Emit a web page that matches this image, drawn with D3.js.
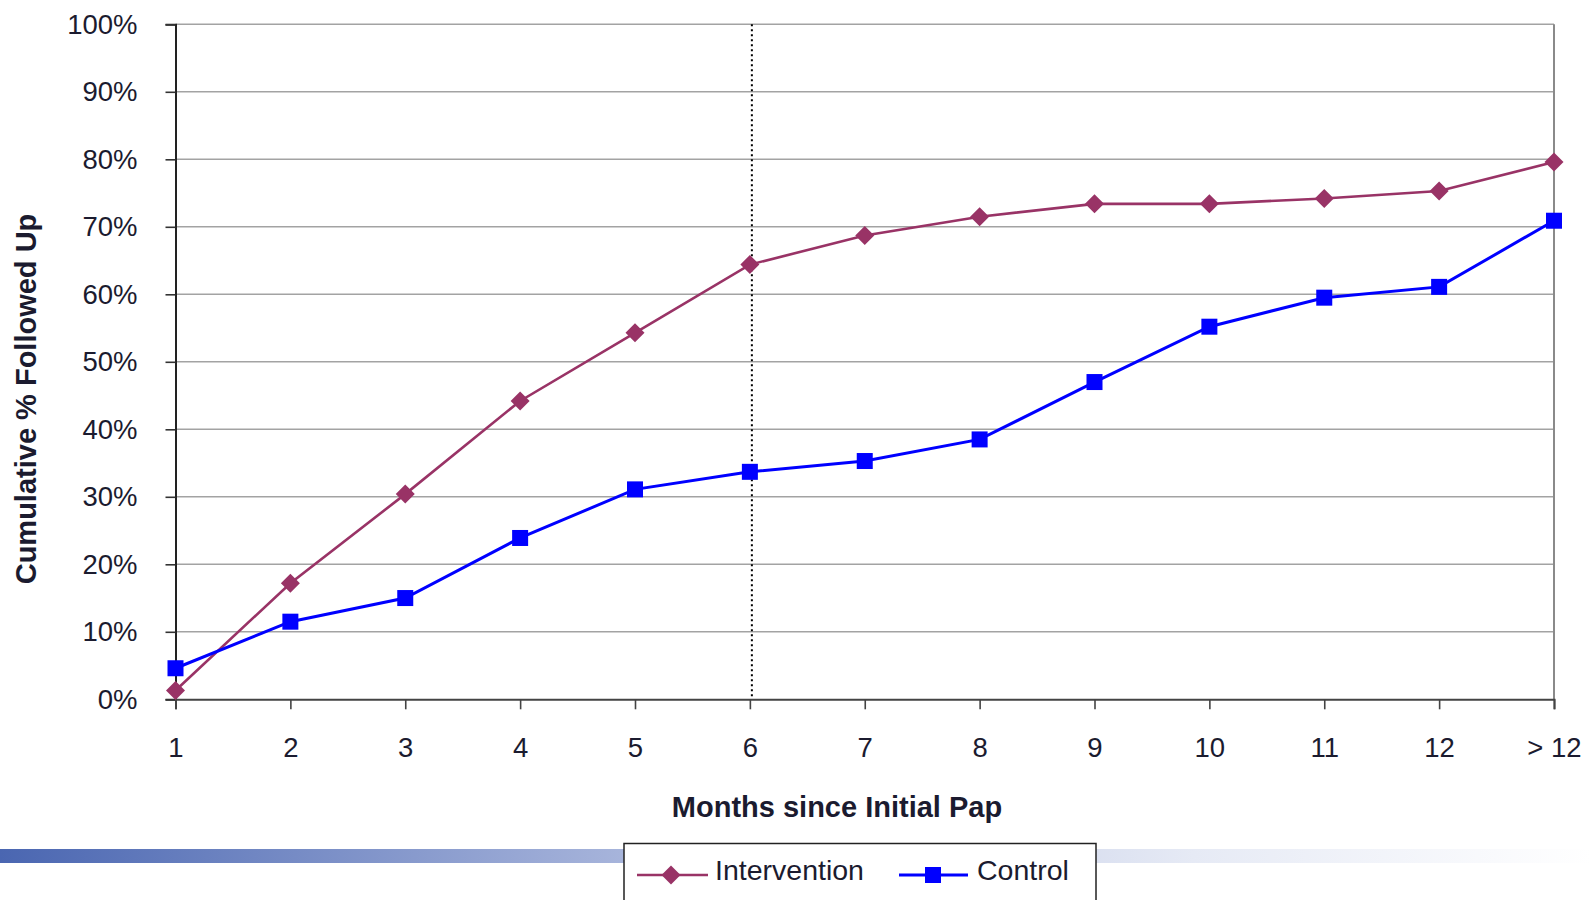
<!DOCTYPE html>
<html>
<head>
<meta charset="utf-8">
<script src="https://cdn.jsdelivr.net/npm/d3@7"></script>
<style>
  html, body { margin: 0; padding: 0; background: #fff; }
  svg { display: block; font-family: "Liberation Sans", Arial, sans-serif; }
</style>
</head>
<body>
<svg id="chart" width="1591" height="900"></svg>
<script>
const months = ["1","2","3","4","5","6","7","8","9","10","11","12","> 12"];
const intervention = [1.3, 17.2, 30.4, 44.2, 54.3, 64.4, 68.7, 71.5, 73.4, 73.4, 74.2, 75.3, 79.6];
const control = [4.6, 11.5, 15.0, 23.9, 31.1, 33.7, 35.3, 38.5, 47.0, 55.2, 59.5, 61.1, 70.9];
const yTicks = [0,10,20,30,40,50,60,70,80,90,100];
const seriesNames = ["Intervention", "Control"];
const markerMonth = "6";

(function () {
const textColor = "#1b1b2f";
const svg = d3.select("#chart");

const pL = 175.5, pR = 1554, pT = 24.3, pB = 699.3;
const x = d3.scalePoint().domain(months).range([pL, pR]).padding(0);
const y = d3.scaleLinear().domain([0, 100]).range([pB, pT]);

// gradient band
const defs = svg.append("defs");
const grad = defs.append("linearGradient").attr("id", "band").attr("x1", "0%").attr("x2", "100%");
grad.append("stop").attr("offset", "0%").attr("stop-color", "#4a66b1");
grad.append("stop").attr("offset", "40%").attr("stop-color", "#a9b6dc");
grad.append("stop").attr("offset", "75%").attr("stop-color", "#e6eaf5");
grad.append("stop").attr("offset", "100%").attr("stop-color", "#ffffff");
svg.append("rect").attr("x", 0).attr("y", 849).attr("width", 1591).attr("height", 14).attr("fill", "url(#band)");

// gridlines
svg.append("g").selectAll("line").data(yTicks.filter(d => d > 0)).join("line")
  .attr("x1", pL).attr("x2", pR)
  .attr("y1", d => y(d)).attr("y2", d => y(d))
  .attr("stroke", "#a3a3a3").attr("stroke-width", 1.6);

// right border
svg.append("line").attr("x1", pR).attr("x2", pR).attr("y1", pT).attr("y2", pB)
  .attr("stroke", "#8a8a8a").attr("stroke-width", 2);

// y axis
const yAxis = svg.append("g").attr("transform", `translate(${pL},0)`)
  .call(d3.axisLeft(y).tickValues(yTicks).tickSize(10).tickPadding(28).tickFormat(d => d + "%"));
yAxis.select(".domain").attr("stroke", "#222").attr("stroke-width", 2);
yAxis.selectAll(".tick line").attr("stroke", "#333").attr("stroke-width", 1.6);
yAxis.selectAll(".tick text").attr("fill", textColor).style("font-size", "27.5px")
  .style("font-family", "'Liberation Sans', Arial, sans-serif");

// x axis
const xAxis = svg.append("g").attr("transform", `translate(0,${pB})`)
  .call(d3.axisBottom(x).tickSize(10).tickPadding(28.5));
xAxis.select(".domain").attr("stroke", "#444").attr("stroke-width", 2);
xAxis.selectAll(".tick line").attr("stroke", "#444").attr("stroke-width", 1.6);
xAxis.selectAll(".tick text").attr("fill", textColor).style("font-size", "27.5px")
  .style("font-family", "'Liberation Sans', Arial, sans-serif");

// dotted vertical line at month 6
svg.append("line").attr("x1", x(markerMonth) + 2).attr("x2", x(markerMonth) + 2)
  .attr("y1", pT).attr("y2", pB)
  .attr("stroke", "#000").attr("stroke-width", 2).attr("stroke-dasharray", "2,3");

// lines
const line = d3.line().x((d, i) => x(months[i])).y(d => y(d));
svg.append("path").datum(intervention).attr("d", line)
  .attr("fill", "none").attr("stroke", "#993366").attr("stroke-width", 2.6);
svg.append("path").datum(control).attr("d", line)
  .attr("fill", "none").attr("stroke", "#0000ff").attr("stroke-width", 3);

const diamond = s => `M0,${-s}L${s},0L0,${s}L${-s},0Z`;
svg.append("g").selectAll("path").data(intervention).join("path")
  .attr("transform", (d, i) => `translate(${x(months[i])},${y(d)})`)
  .attr("d", diamond(9.5)).attr("fill", "#993366");
svg.append("g").selectAll("rect").data(control).join("rect")
  .attr("x", (d, i) => x(months[i]) - 8).attr("y", d => y(d) - 8)
  .attr("width", 16).attr("height", 16).attr("fill", "#0000ff");

// axis titles
svg.append("text").attr("x", 837).attr("y", 817).attr("text-anchor", "middle")
  .attr("fill", textColor).style("font-size", "29px").style("font-weight", "bold")
  .text("Months since Initial Pap");
svg.append("text").attr("transform", "translate(35.5,399) rotate(-90)").attr("text-anchor", "middle")
  .attr("fill", textColor).style("font-size", "29px").style("font-weight", "bold")
  .text("Cumulative % Followed Up");

// legend
const lg = svg.append("g");
lg.append("rect").attr("x", 624).attr("y", 843.5).attr("width", 472).attr("height", 70)
  .attr("fill", "#fff").attr("stroke", "#222").attr("stroke-width", 1.5);
const ly = 875;
lg.append("line").attr("x1", 637).attr("x2", 708).attr("y1", ly).attr("y2", ly)
  .attr("stroke", "#993366").attr("stroke-width", 2.6);
lg.append("path").attr("transform", `translate(671,${ly})`).attr("d", diamond(9.5)).attr("fill", "#993366");
lg.append("text").attr("x", 715).attr("y", 880).attr("fill", textColor).style("font-size", "28.5px").text(seriesNames[0]);
lg.append("line").attr("x1", 899).attr("x2", 968).attr("y1", ly).attr("y2", ly)
  .attr("stroke", "#0000ff").attr("stroke-width", 3);
lg.append("rect").attr("x", 925).attr("y", ly - 8).attr("width", 16).attr("height", 16).attr("fill", "#0000ff");
lg.append("text").attr("x", 977).attr("y", 880).attr("fill", textColor).style("font-size", "28.5px").text(seriesNames[1]);
})();
</script>
</body>
</html>
